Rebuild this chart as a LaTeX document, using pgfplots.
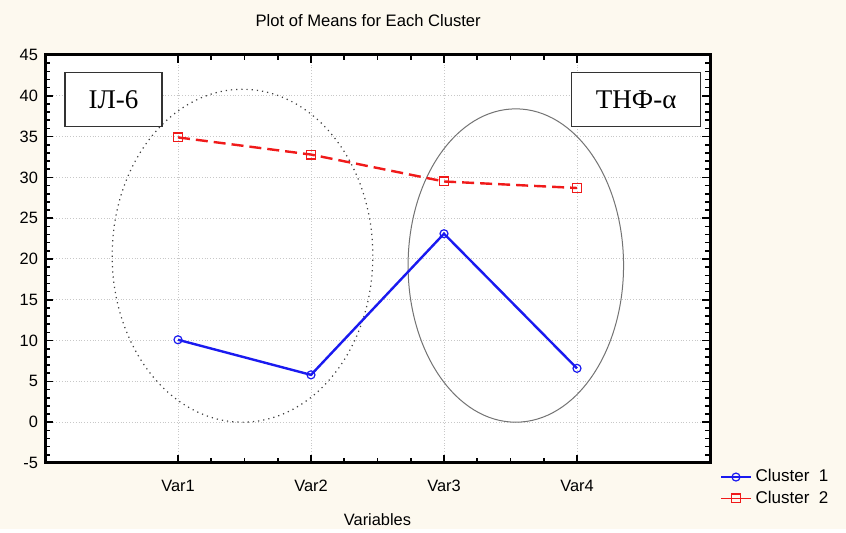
\documentclass[border=0pt]{standalone}
\usepackage{pgfplots}
\pgfplotsset{compat=1.18}
\usepackage{fontspec}
\setmainfont{Liberation Sans}
\newfontfamily\serifcyr{Liberation Serif}
\usetikzlibrary{backgrounds}
\definecolor{cream}{HTML}{FDF9EF}
\definecolor{cblue}{HTML}{1A1AF0}
\definecolor{cred}{HTML}{F01A1A}
\definecolor{gridc}{HTML}{C8C8C8}

\begin{document}
\begin{tikzpicture}
\begin{axis}[name=ax,scale only axis,width=332.5pt,height=204pt,
  xmin=0,xmax=5,ymin=-5,ymax=45,
  xtick={1,2,3,4},xticklabels={Var1,Var2,Var3,Var4},
  minor x tick num=3,
  extra x ticks={0,5},extra x tick labels={},extra x tick style={grid=none},
  ytick={-5,0,...,45},minor y tick num=4,
  tick align=inside,major tick length=4pt,minor tick length=2.5pt,
  tick style={black,line width=0.8pt},
  axis line style={line width=1.5pt},
  axis background/.style={fill=white},
  grid=major,major grid style={gridc,densely dotted,line width=0.5pt},
  /pgf/number format/assume math mode=true,
  ticklabel style={font=\fontsize{8.2}{9}\selectfont},
  xticklabel style={yshift=-5pt},
  xlabel={Variables},xlabel style={font=\fontsize{8.2}{9}\selectfont,yshift=-4pt},
  title={Plot of Means for Each Cluster},
  title style={font=\fontsize{8.3}{9}\selectfont,at={(0.486,1)},anchor=base,yshift=8pt},
  legend style={at={(1,0)},anchor=north west,xshift=2pt,yshift=1pt,draw=none,fill=none,
    font=\fontsize{8.5}{9}\selectfont,row sep=-1pt},
  legend image code/.code={\draw[solid,line width=0.8pt,mark repeat=2,mark phase=2]
    plot coordinates {(0cm,0cm)(0.26cm,0cm)(0.52cm,0cm)};},
  legend cell align=left,
  clip=false]
\draw[black!75,dotted,line width=0.6pt] (axis cs:1.485,20.4) ellipse [x radius=0.98,y radius=20.4];
\draw[black!55,line width=0.5pt] (axis cs:3.54,19.2) ellipse [x radius=0.81,y radius=19.2];
\addplot[cblue,line width=1.2pt,mark=o,mark size=2pt,mark options={solid,fill=white,line width=0.6pt}]
  coordinates {(1,10.1)(2,5.8)(3,23.1)(4,6.6)};
\addlegendentry{Cluster\ \ 1}
\addplot[cred,line width=1.2pt,dash pattern=on 6pt off 3pt,mark=square,mark size=2.2pt,mark options={solid,fill=white,line width=0.6pt}]
  coordinates {(1,34.9)(2,32.8)(3,29.5)(4,28.7)};
\addlegendentry{Cluster\ \ 2}
\node[draw=black!80,fill=white,line width=0.6pt,minimum width=48.5pt,minimum height=27pt,inner sep=0pt,
  font=\serifcyr\fontsize{13.5}{14}\selectfont] at (axis cs:0.515,39.5) {ІЛ-6};
\node[draw=black!80,fill=white,line width=0.6pt,minimum width=64.5pt,minimum height=27pt,inner sep=0pt,
  font=\serifcyr\fontsize{13.5}{14}\selectfont] at (axis cs:4.445,39.5) {ТНФ-α};
\end{axis}
\begin{scope}[on background layer]
\fill[cream] ([shift={(-22.5pt,-33pt)}]ax.south west) rectangle ([shift={(68pt,27.5pt)}]ax.north east);
\end{scope}
\end{tikzpicture}
\end{document}
